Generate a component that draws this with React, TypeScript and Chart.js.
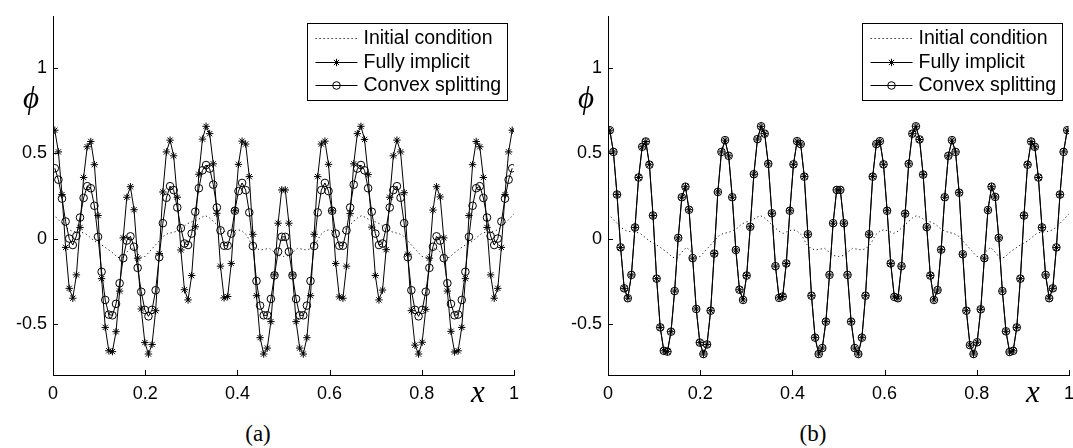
import React, { useEffect, useRef } from "react";
import { Chart, registerables } from "chart.js";

Chart.register(...registerables);

// ---------- data ----------
const N_CELLS = 128;
const xCells = Array.from({ length: N_CELLS }, (_, i) => (i + 0.5) / N_CELLS);
const xInitial = Array.from({ length: 101 }, (_, i) => i / 100);

const initialPhi = [
  0.145, 0.115, 0.088, 0.062, 0.045, 0.040, 0.038, 0.030, 0.008, -0.015,
  -0.030, -0.045, -0.065, -0.085, -0.110, -0.115, -0.080, -0.052, -0.075, -0.110,
  -0.105, -0.075, -0.045, -0.015, 0.015, 0.030, 0.035, 0.045, 0.060, 0.085,
  0.097, 0.105, 0.120, 0.135, 0.120, 0.095, 0.070, 0.045, 0.030, 0.042,
  0.052, 0.045, 0.020, -0.030, -0.058, -0.067, -0.062, -0.058, -0.080, -0.100,
  -0.105,
  -0.100, -0.080, -0.058, -0.062, -0.067, -0.058, -0.030, 0.020, 0.045, 0.052,
  0.042, 0.030, 0.045, 0.070, 0.095, 0.120, 0.135, 0.120, 0.105, 0.097,
  0.085, 0.060, 0.045, 0.035, 0.030, 0.015, -0.015, -0.045, -0.075, -0.105,
  -0.110, -0.075, -0.052, -0.080, -0.115, -0.110, -0.085, -0.065, -0.045, -0.030,
  -0.015, 0.008, 0.030, 0.038, 0.040, 0.045, 0.062, 0.088, 0.115, 0.145,
];

const implicitPhi = [
  0.635, 0.508, 0.258, -0.052, -0.292, -0.350, -0.213, 0.065, 0.358, 0.538,
  0.569, 0.433, 0.135, -0.235, -0.521, -0.658, -0.663, -0.546, -0.308, 0.004,
  0.242, 0.304, 0.169, -0.115, -0.413, -0.610, -0.677, -0.621, -0.423, -0.088,
  0.273, 0.508, 0.577, 0.485, 0.242, -0.067, -0.300, -0.360, -0.217, 0.069,
  0.377, 0.583, 0.658, 0.615, 0.438, 0.148, -0.162, -0.348, -0.340, -0.146,
  0.163, 0.435, 0.571, 0.554, 0.363, 0.025, -0.335, -0.581, -0.677, -0.642,
  -0.487, -0.213, 0.090, 0.285,
  0.285, 0.090, -0.213, -0.487, -0.642, -0.677, -0.581, -0.335, 0.025, 0.363,
  0.554, 0.571, 0.435, 0.163, -0.146, -0.342, -0.350, -0.162, 0.146, 0.438,
  0.615, 0.658, 0.581, 0.375, 0.067, -0.217, -0.360, -0.302, -0.065, 0.242,
  0.485, 0.577, 0.508, 0.269, -0.092, -0.423, -0.625, -0.677, -0.608, -0.415,
  -0.115, 0.167, 0.304, 0.244, 0.004, -0.308, -0.544, -0.665, -0.658, -0.521,
  -0.235, 0.135, 0.433, 0.569, 0.538, 0.358, 0.065, -0.213, -0.350, -0.292,
  -0.052, 0.258, 0.508, 0.635,
];

const convexPhiA = [
  0.412, 0.345, 0.234, 0.100, 0.000, -0.038, 0.015, 0.123, 0.238, 0.307,
  0.295, 0.192, 0.010, -0.195, -0.360, -0.446, -0.450, -0.383, -0.262, -0.115,
  -0.012, 0.013, -0.048, -0.172, -0.312, -0.418, -0.456, -0.418, -0.303, -0.109,
  0.090, 0.239, 0.307, 0.284, 0.182, 0.061, -0.029, -0.038, 0.029, 0.157,
  0.295, 0.400, 0.431, 0.410, 0.316, 0.182, 0.048, -0.042, -0.042, 0.029,
  0.163, 0.278, 0.326, 0.284, 0.153, -0.044, -0.249, -0.393, -0.450, -0.450,
  -0.354, -0.216, -0.077, 0.010,
  0.010, -0.077, -0.216, -0.354, -0.450, -0.450, -0.393, -0.249, -0.044, 0.153,
  0.284, 0.326, 0.278, 0.163, 0.029, -0.042, -0.042, 0.048, 0.182, 0.316,
  0.410, 0.431, 0.400, 0.295, 0.157, 0.029, -0.038, -0.029, 0.061, 0.182,
  0.284, 0.307, 0.239, 0.090, -0.109, -0.303, -0.418, -0.456, -0.418, -0.312,
  -0.172, -0.048, 0.013, -0.012, -0.115, -0.262, -0.383, -0.450, -0.446, -0.360,
  -0.195, 0.010, 0.192, 0.295, 0.307, 0.238, 0.123, 0.015, -0.038, 0.000,
  0.100, 0.234, 0.345, 0.412,
];

const convexPhiB = [
  0.635, 0.508, 0.258, -0.052, -0.292, -0.350, -0.213, 0.065, 0.358, 0.538,
  0.569, 0.433, 0.135, -0.235, -0.521, -0.658, -0.663, -0.546, -0.308, 0.004,
  0.242, 0.304, 0.169, -0.115, -0.413, -0.610, -0.677, -0.621, -0.423, -0.088,
  0.273, 0.508, 0.577, 0.485, 0.242, -0.067, -0.300, -0.360, -0.217, 0.069,
  0.377, 0.583, 0.658, 0.615, 0.438, 0.148, -0.162, -0.348, -0.340, -0.146,
  0.163, 0.435, 0.571, 0.554, 0.363, 0.025, -0.335, -0.581, -0.677, -0.642,
  -0.487, -0.213, 0.090, 0.285,
  0.285, 0.090, -0.213, -0.487, -0.642, -0.677, -0.581, -0.335, 0.025, 0.363,
  0.554, 0.571, 0.435, 0.163, -0.146, -0.342, -0.350, -0.162, 0.146, 0.438,
  0.615, 0.658, 0.581, 0.375, 0.067, -0.217, -0.360, -0.302, -0.065, 0.242,
  0.485, 0.577, 0.508, 0.269, -0.092, -0.423, -0.625, -0.677, -0.608, -0.415,
  -0.115, 0.167, 0.304, 0.244, 0.004, -0.308, -0.544, -0.665, -0.658, -0.521,
  -0.235, 0.135, 0.433, 0.569, 0.538, 0.358, 0.065, -0.213, -0.350, -0.292,
  -0.052, 0.258, 0.508, 0.635,
];

const xTicks = [0, 0.2, 0.4, 0.6, 0.8, 1];
const yTicks = [-0.5, 0, 0.5, 1];
const X_MIN = 0;
const X_MAX = 1;
const Y_MIN = -0.8;
const Y_MAX = 1.3;
const legendLabels = ["Initial condition", "Fully implicit", "Convex splitting"];
const panelCaptions = ["(a)", "(b)"];

// ---------- styling ----------
const SANS = '"Liberation Sans", Arial, Helvetica, sans-serif';
const SERIF = '"Liberation Serif", "Times New Roman", serif';
const CANVAS_W = 530;
const CANVAS_H = 420;

const inwardTicks = {
  id: "inwardTicks",
  afterDraw(chart: any) {
    const { ctx, chartArea, scales } = chart;
    ctx.save();
    ctx.strokeStyle = "#000";
    ctx.lineWidth = 1;
    ctx.setLineDash([]);
    ctx.beginPath();
    for (const v of xTicks) {
      const px = Math.round(scales.x.getPixelForValue(v)) + 0.5;
      ctx.moveTo(px, chartArea.bottom);
      ctx.lineTo(px, chartArea.bottom - 5);
    }
    for (const v of yTicks) {
      const py = Math.round(scales.y.getPixelForValue(v)) + 0.5;
      ctx.moveTo(chartArea.left, py);
      ctx.lineTo(chartArea.left + 5, py);
    }
    ctx.stroke();
    ctx.restore();
  },
};

const boxLegend = {
  id: "boxLegend",
  afterDraw(chart: any) {
    const { ctx, chartArea } = chart;
    const w = 200;
    const h = 77;
    const x0 = Math.round(chartArea.right - 7 - w) + 0.5;
    const y0 = Math.round(chartArea.top + 6) + 0.5;
    ctx.save();
    ctx.fillStyle = "#fff";
    ctx.fillRect(x0, y0, w, h);
    ctx.strokeStyle = "#000";
    ctx.lineWidth = 1;
    ctx.setLineDash([]);
    ctx.strokeRect(x0, y0, w, h);
    const rows = [14.5, 38.5, 61.5];
    const datasets = chart.data.datasets;
    datasets.forEach((ds: any, i: number) => {
      const yy = y0 + rows[i];
      const xa = x0 + 8;
      const xb = x0 + 50;
      ctx.strokeStyle = "#000";
      ctx.lineWidth = ds.borderWidth;
      ctx.setLineDash(ds.borderDash || []);
      ctx.beginPath();
      ctx.moveTo(xa, Math.round(yy) + 0.5);
      ctx.lineTo(xb, Math.round(yy) + 0.5);
      ctx.stroke();
      ctx.setLineDash([]);
      const cx = (xa + xb) / 2;
      const cy = Math.round(yy) + 0.5;
      const r = ds.pointRadius;
      if (ds.pointStyle === "circle" && r > 0) {
        ctx.beginPath();
        ctx.arc(cx, cy, r, 0, Math.PI * 2);
        ctx.stroke();
      } else if (ds.pointStyle === "star" && r > 0) {
        ctx.beginPath();
        for (let k = 0; k < 4; k++) {
          const a = (k * Math.PI) / 4;
          ctx.moveTo(cx - r * Math.cos(a), cy - r * Math.sin(a));
          ctx.lineTo(cx + r * Math.cos(a), cy + r * Math.sin(a));
        }
        ctx.stroke();
      }
      ctx.fillStyle = "#000";
      ctx.font = `19.5px ${SANS}`;
      ctx.textAlign = "left";
      ctx.textBaseline = "middle";
      ctx.fillText(legendLabels[i], x0 + 56, yy + 0.5);
    });
    ctx.restore();
  },
};

function makeConfig(convex: number[]): any {
  return {
    type: "scatter",
    data: {
      datasets: [
        {
          label: legendLabels[0],
          data: xInitial.map((x, i) => ({ x, y: initialPhi[i] })),
          showLine: true,
          borderColor: "#111",
          borderWidth: 1,
          borderDash: [1.2, 2.8],
          pointRadius: 0,
          pointStyle: "line",
          tension: 0,
          order: 3,
        },
        {
          label: legendLabels[1],
          data: xCells.map((x, i) => ({ x, y: implicitPhi[i] })),
          showLine: true,
          borderColor: "#000",
          borderWidth: 1,
          pointStyle: "star",
          pointRadius: 3.7,
          pointBorderColor: "#000",
          pointBorderWidth: 1,
          pointBackgroundColor: "rgba(0,0,0,0)",
          tension: 0,
          order: 2,
        },
        {
          label: legendLabels[2],
          data: xCells.map((x, i) => ({ x, y: convex[i] })),
          showLine: true,
          borderColor: "#000",
          borderWidth: 1,
          pointStyle: "circle",
          pointRadius: 3.8,
          pointBorderColor: "#000",
          pointBorderWidth: 1,
          pointBackgroundColor: "rgba(0,0,0,0)",
          tension: 0,
          order: 1,
        },
      ],
    },
    options: {
      responsive: false,
      animation: false,
      events: [],
      layout: { padding: { left: 0, right: CANVAS_W - 514, top: 12, bottom: 0 } },
      plugins: {
        legend: { display: false },
        tooltip: { enabled: false },
        title: { display: false },
      },
      scales: {
        x: {
          type: "linear",
          min: X_MIN,
          max: X_MAX,
          afterBuildTicks: (s: any) => {
            s.ticks = xTicks.map((v) => ({ value: v }));
          },
          afterFit: (s: any) => {
            s.height = CANVAS_H - 375;
            s.paddingLeft = 0;
            s.paddingRight = 0;
          },
          grid: { display: true, drawOnChartArea: false, drawTicks: false },
          border: { display: true, color: "#000", width: 1 },
          ticks: {
            color: "#000",
            font: { family: SANS, size: 18 },
            padding: 8,
            maxRotation: 0,
            autoSkip: false,
            callback: (v: number) => String(Math.round(v * 10) / 10),
          },
        },
        y: {
          type: "linear",
          min: Y_MIN,
          max: Y_MAX,
          afterBuildTicks: (s: any) => {
            s.ticks = yTicks.map((v) => ({ value: v }));
          },
          afterFit: (s: any) => {
            s.width = 53;
          },
          grid: { display: true, drawOnChartArea: false, drawTicks: false },
          border: { display: true, color: "#000", width: 1 },
          ticks: {
            color: "#000",
            font: { family: SANS, size: 18 },
            padding: 6,
            autoSkip: false,
            callback: (v: number) => String(Math.round(v * 10) / 10),
          },
        },
      },
    },
    plugins: [inwardTicks, boxLegend],
  };
}

function Panel({ convex, left, caption }: { convex: number[]; left: number; caption: string }) {
  const ref = useRef<HTMLCanvasElement>(null);
  useEffect(() => {
    if (!ref.current) return;
    const chart = new Chart(ref.current, makeConfig(convex));
    return () => chart.destroy();
  }, [convex]);
  const italic: React.CSSProperties = {
    position: "absolute",
    fontFamily: SERIF,
    fontStyle: "italic",
    lineHeight: 1,
    transform: "translate(-50%, -50%)",
    color: "#000",
    whiteSpace: "nowrap",
  };
  return (
    <div style={{ position: "absolute", left, top: 0, width: CANVAS_W, height: 448 }}>
      <canvas
        ref={ref}
        width={CANVAS_W}
        height={CANVAS_H}
        style={{ position: "absolute", left: 0, top: 0, width: CANVAS_W, height: CANVAS_H }}
      />
      <span style={{ ...italic, left: 31, top: 97, fontSize: 31 }}>ϕ</span>
      <span style={{ ...italic, left: 478, top: 391, fontSize: 31 }}>x</span>
      <span
        style={{
          position: "absolute",
          left: 258,
          top: 433,
          transform: "translate(-50%, -50%)",
          fontFamily: SERIF,
          fontSize: 23,
          lineHeight: 1,
          color: "#000",
        }}
      >
        {caption}
      </span>
    </div>
  );
}

export default function App() {
  return (
    <div
      style={{
        position: "fixed",
        left: 0,
        top: 0,
        width: 1073,
        height: 448,
        overflow: "hidden",
        background: "#fff",
      }}
    >
      <Panel convex={convexPhiA} left={0} caption={panelCaptions[0]} />
      <Panel convex={convexPhiB} left={555} caption={panelCaptions[1]} />
    </div>
  );
}
